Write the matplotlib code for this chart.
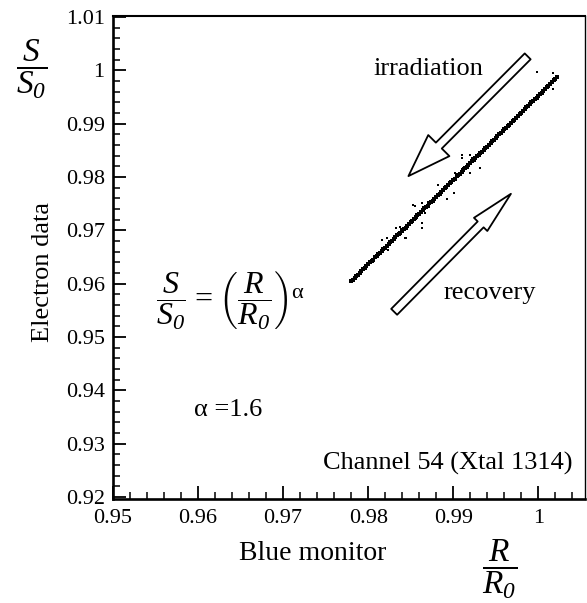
import matplotlib
matplotlib.use("Agg")
import matplotlib.pyplot as plt
from matplotlib.ticker import MultipleLocator, FuncFormatter

plt.rcParams['font.family'] = ['Liberation Serif', 'DejaVu Serif']
plt.rcParams['mathtext.fontset'] = 'custom'
plt.rcParams['mathtext.rm'] = 'Liberation Serif:italic'
plt.rcParams['mathtext.it'] = 'Liberation Serif:italic'
plt.rcParams['mathtext.sf'] = 'Liberation Serif'

# irradiation sweep (R/R0, S/S0)
irr_x = [0.9780, 0.9784, 0.9788, 0.9792, 0.9796, 0.9800, 0.9804, 0.9808, 0.9812, 0.9816,
         0.9820, 0.9824, 0.9828, 0.9832, 0.9836, 0.9840, 0.9844, 0.9848, 0.9852, 0.9856,
         0.9860, 0.9864, 0.9868, 0.9872, 0.9876, 0.9880, 0.9884, 0.9888, 0.9892, 0.9896,
         0.9900, 0.9904, 0.9908, 0.9912, 0.9916, 0.9920, 0.9924, 0.9928, 0.9932, 0.9936,
         0.9940, 0.9944, 0.9948, 0.9952, 0.9956, 0.9960, 0.9964, 0.9968, 0.9972, 0.9976,
         0.9980, 0.9984, 0.9988, 0.9992, 0.9996, 1.0000, 1.0004, 1.0008, 1.0012, 1.0016,
         1.0020]
irr_y = [0.96046, 0.96112, 0.96168, 0.96240, 0.96295, 0.96365, 0.96420, 0.96492, 0.96548, 0.96618,
         0.96675, 0.96745, 0.96800, 0.96872, 0.96925, 0.96998, 0.97052, 0.97125, 0.97180, 0.97250,
         0.97305, 0.97378, 0.97430, 0.97505, 0.97558, 0.97630, 0.97685, 0.97756, 0.97812, 0.97884,
         0.97938, 0.98010, 0.98062, 0.98136, 0.98190, 0.98262, 0.98318, 0.98388, 0.98444, 0.98515,
         0.98570, 0.98640, 0.98696, 0.98768, 0.98822, 0.98894, 0.98950, 0.99020, 0.99076, 0.99146,
         0.99202, 0.99272, 0.99328, 0.99400, 0.99455, 0.99526, 0.99582, 0.99652, 0.99708, 0.99778,
         0.99835]

# recovery sweep
rec_x = [0.9782, 0.9786, 0.9790, 0.9794, 0.9798, 0.9802, 0.9806, 0.9810, 0.9814, 0.9818,
         0.9822, 0.9826, 0.9830, 0.9834, 0.9838, 0.9842, 0.9846, 0.9850, 0.9854, 0.9858,
         0.9862, 0.9866, 0.9870, 0.9874, 0.9878, 0.9882, 0.9886, 0.9890, 0.9894, 0.9898,
         0.9902, 0.9906, 0.9910, 0.9914, 0.9918, 0.9922, 0.9926, 0.9930, 0.9934, 0.9938,
         0.9942, 0.9946, 0.9950, 0.9954, 0.9958, 0.9962, 0.9966, 0.9970, 0.9974, 0.9978,
         0.9982, 0.9986, 0.9990, 0.9994, 0.9998, 1.0002, 1.0006, 1.0010, 1.0014, 1.0018,
         1.0022]
rec_y = [0.96075, 0.96145, 0.96200, 0.96270, 0.96328, 0.96398, 0.96452, 0.96524, 0.96580, 0.96650,
         0.96706, 0.96778, 0.96832, 0.96903, 0.96958, 0.97030, 0.97085, 0.97156, 0.97210, 0.97283,
         0.97338, 0.97410, 0.97464, 0.97535, 0.97590, 0.97662, 0.97716, 0.97788, 0.97843, 0.97915,
         0.97970, 0.98041, 0.98096, 0.98167, 0.98222, 0.98294, 0.98348, 0.98420, 0.98475, 0.98547,
         0.98602, 0.98673, 0.98728, 0.98799, 0.98855, 0.98926, 0.98980, 0.99052, 0.99107, 0.99179,
         0.99234, 0.99305, 0.99360, 0.99431, 0.99487, 0.99558, 0.99613, 0.99684, 0.99739, 0.99811,
         0.99870]

# scattered points off the main band
out_x = [0.99985, 1.00168, 1.00168, 0.99102, 0.99102, 0.99200, 0.99220, 0.99318, 0.99200,
         0.99114, 0.99024, 0.99012, 0.98926, 0.98827, 0.98631, 0.98553, 0.98671, 0.98631,
         0.98631, 0.98447, 0.98338, 0.98227, 0.98161, 0.98239, 0.98376, 0.98412, 0.98533,
         0.99004, 0.98329, 0.98435, 0.98360, 0.98390, 0.98560, 0.98600]
out_y = [0.99974, 0.99944, 0.99644, 0.98411, 0.98349, 0.98411, 0.98349, 0.98161, 0.98067,
         0.98161, 0.98079, 0.97704, 0.97580, 0.97848, 0.97505, 0.97455, 0.97317, 0.97141,
         0.97036, 0.96848, 0.96910, 0.96848, 0.96816, 0.96629, 0.97066, 0.96972, 0.97473,
         0.97692, 0.97036, 0.96848, 0.96930, 0.96960, 0.97220, 0.97300]

x_ticks = [0.95, 0.96, 0.97, 0.98, 0.99, 1.00]
y_ticks = [0.92, 0.93, 0.94, 0.95, 0.96, 0.97, 0.98, 0.99, 1.00, 1.01]

fig = plt.figure(figsize=(5.87, 6.03), dpi=100)
ax = fig.add_axes([113/587, 1 - 499/603, 472/587, 483/603])

# dense sweeps: points close enough to merge into a band
ax.plot(irr_x, irr_y, '-', color='black', lw=1.6, marker='s', ms=2.2, mew=0)
ax.plot(rec_x, rec_y, '-', color='black', lw=1.6, marker='s', ms=2.2, mew=0)
ax.scatter(out_x, out_y, s=3, marker='s', c='black', linewidths=0)

ax.set_xlim(0.95, 1.0055)
ax.set_ylim(0.9196, 1.0102)
ax.set_xticks(x_ticks)
ax.set_yticks(y_ticks)
ax.xaxis.set_minor_locator(MultipleLocator(0.002))
ax.yaxis.set_minor_locator(MultipleLocator(0.002))
fmt = FuncFormatter(lambda v, p: '%g' % round(v, 4))
ax.xaxis.set_major_formatter(fmt)
ax.yaxis.set_major_formatter(fmt)
ax.tick_params(which='both', direction='in', top=False, right=False, labelsize=16, color='black')
ax.tick_params(which='major', length=9.5, width=1.3)
ax.tick_params(which='minor', length=5, width=1.1)
ax.tick_params(axis='x', pad=7)
ax.tick_params(axis='y', pad=6)

ax.spines['left'].set_linewidth(1.9)
ax.spines['bottom'].set_linewidth(1.9)
ax.spines['top'].set_linewidth(1.5)
ax.spines['right'].set_linewidth(1.0)

ax.set_xlabel('Blue monitor', fontsize=20)
ax.xaxis.set_label_coords((313 - 113) / 472, -(553 - 499) / 483)
ax.xaxis.label.set_va('center')
ax.set_ylabel('Electron data', fontsize=19)
ax.yaxis.set_label_coords(-(113 - 43) / 472, (499 - 272) / 483)
ax.yaxis.label.set_va('center')

fig.text(32/587, 1 - 69/603, r'$\dfrac{S}{S_0}$', fontsize=24, ha='center', va='center')
fig.text(500/587, 1 - 569/603, r'$\dfrac{R}{R_0}$', fontsize=24, ha='center', va='center')

ax.text(0.96388, 0.9569,
        r'$\dfrac{S}{S_0}=\left(\dfrac{R}{R_0}\right)^{\mathsf{\alpha}}$',
        fontsize=23, ha='center', va='center')
ax.text(0.96353, 0.9363, 'α =1.6', fontsize=19, ha='center', va='center')
ax.text(0.98706, 1.0003, 'irradiation', fontsize=19, ha='center', va='center')
ax.text(0.99435, 0.9582, 'recovery', fontsize=19, ha='center', va='center')
ax.text(0.9725, 0.0745, 'Channel 54 (Xtal 1314)', fontsize=19, ha='right', va='center',
        transform=ax.transAxes)

ax.annotate('', xy=(0.98474, 0.98017), xytext=(0.99876, 1.00263),
            arrowprops=dict(arrowstyle='simple,head_length=3.1,head_width=2.15,tail_width=0.6',
                            fc='white', ec='black', lw=1.3, shrinkA=0, shrinkB=0,
                            mutation_scale=10))
ax.annotate('', xy=(0.99679, 0.97685), xytext=(0.98306, 0.95471),
            arrowprops=dict(arrowstyle='simple,head_length=3.1,head_width=1.35,tail_width=0.6',
                            fc='white', ec='black', lw=1.3, shrinkA=0, shrinkB=0,
                            mutation_scale=10))

fig.savefig('out.png', dpi=100)
